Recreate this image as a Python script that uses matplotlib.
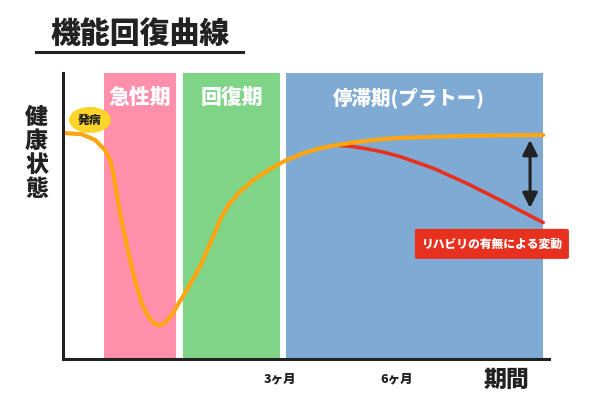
import matplotlib
matplotlib.use("Agg")
import matplotlib.pyplot as plt
from matplotlib.patches import Ellipse, FancyBboxPatch
from matplotlib.lines import Line2D

plt.rcParams['font.family'] = ['Noto Sans CJK JP', 'DejaVu Sans']

# ---- data (arbitrary units: time 0-100, health 0-100) ----
phase_names = ["急性期", "回復期", "停滞期(プラトー)"]
phase_start = [8.4, 24.7, 45.9]
phase_end = [23.3, 44.7, 98.8]
phase_colors = ["#FF8FAB", "#80D487", "#7FAAD4"]

curve_x = [0.3, 3.85, 6.58, 8.64, 9.67, 10.35, 11.05, 11.73, 12.76, 13.79, 14.81,
           16.19, 17.55, 18.93, 19.96, 20.99, 22.37, 25.45, 28.19, 30.6, 32.3,
           34.01, 36.42, 39.16, 42.24, 45.33, 49.44, 52.88, 56.32, 59.73, 65.23,
           69.3, 76.0, 83.1, 91.0, 98.8]
curve_y = [79.0, 78.6, 76.6, 73.1, 69.6, 64.9, 57.9, 50.9, 42.8, 34.6, 27.6,
           19.5, 14.8, 12.2, 11.8, 12.7, 15.4, 24.1, 32.3, 41.6, 48.6,
           53.8, 58.5, 62.6, 66.0, 69.0, 71.9, 73.7, 74.8, 75.7, 76.8,
           77.3, 77.7, 78.0, 78.2, 78.3]

decline_x = [56.0, 59.5, 62.5, 66.0, 69.3, 76.2, 83.1, 89.9, 98.8]
decline_y = [74.8, 74.3, 73.5, 72.3, 70.8, 66.7, 61.4, 55.6, 47.7]

tick_pos = [44.7, 68.7]
tick_labels = ["3ヶ月", "6ヶ月"]

title = "機能回復曲線"
ylabel = "健康状態"
xlabel = "期間"
onset_label = "発病"
variation_label = "リハビリの有無による変動"

DARK = "#222222"
ORANGE = "#FFA50F"
RED = "#E8301E"
W = 'black'

fig = plt.figure(figsize=(6, 4), dpi=100)
ax = fig.add_axes([63 / 600, 41 / 400, 486 / 600, 286 / 400])
ax.set_xlim(0, 100)
ax.set_ylim(0, 100)

for name, s, e, c in zip(phase_names, phase_start, phase_end, phase_colors):
    ax.axvspan(s, e, color=c, lw=0, zorder=0)
    cx = (s + e) / 2 if name != "停滞期(プラトー)" else 71.2
    ax.text(cx, 91.3, name, ha='center', va='center', color='white',
            fontsize=15 if len(name) == 3 else 14, fontweight=W, zorder=3)

ax.plot(decline_x, decline_y, color=RED, lw=2.6, solid_capstyle='round',
        solid_joinstyle='round', zorder=2)
ax.plot(curve_x, curve_y, color=ORANGE, lw=3.0, solid_capstyle='round',
        solid_joinstyle='round', zorder=2.5)

# double-headed arrow
ax.annotate('', xy=(96.1, 52.8), xytext=(96.1, 76.6),
            arrowprops=dict(arrowstyle='<|-|>,head_length=0.9,head_width=0.45',
                            color=DARK, lw=2.2, shrinkA=0, shrinkB=0), zorder=4)

# variation label box
box = FancyBboxPatch((72.4, 35.0), 31.7, 10.5,
                     boxstyle='round,pad=0,rounding_size=0.6',
                     facecolor=RED, edgecolor='none', clip_on=False, zorder=5)
ax.add_patch(box)
ax.text(88.25, 40.3, variation_label, ha='center', va='center', color='white',
        fontsize=8.5, fontweight=W, zorder=6, clip_on=False)

# onset ellipse
ell = Ellipse((5.56, 83.6), 8.64, 9.09, facecolor="#FFD42A", edgecolor='none',
              clip_on=False, zorder=5)
ax.add_patch(ell)
ax.text(5.56, 83.6, onset_label, ha='center', va='center', color=DARK,
        fontsize=8.5, fontweight=W, zorder=6)

# axes styling
for side in ['top', 'right']:
    ax.spines[side].set_visible(False)
for side in ['left', 'bottom']:
    ax.spines[side].set_color(DARK)
    ax.spines[side].set_linewidth(2.2)
ax.set_yticks([])
ax.set_xticks(tick_pos)
ax.set_xticklabels(tick_labels, fontsize=9, fontweight=W, color=DARK)
ax.tick_params(axis='x', length=0, pad=10)

ax.text(91.2, -7.5, xlabel, ha='center', va='center', fontsize=16.5,
        fontweight=W, color=DARK, clip_on=False)

fig.text(36.5 / 600, 1 - 153.5 / 400, "\n".join(ylabel), ha='center', va='center',
         fontsize=16.5, fontweight=W, color=DARK, linespacing=1.05)

fig.text(140 / 600, 1 - 33 / 400, title, ha='center', va='center',
         fontsize=21.5, fontweight=W, color=DARK)
fig.add_artist(Line2D([36 / 600, 243 / 600], [1 - 52 / 400, 1 - 52 / 400],
                      color=DARK, lw=2.2))

fig.savefig("out.png", dpi=100)
